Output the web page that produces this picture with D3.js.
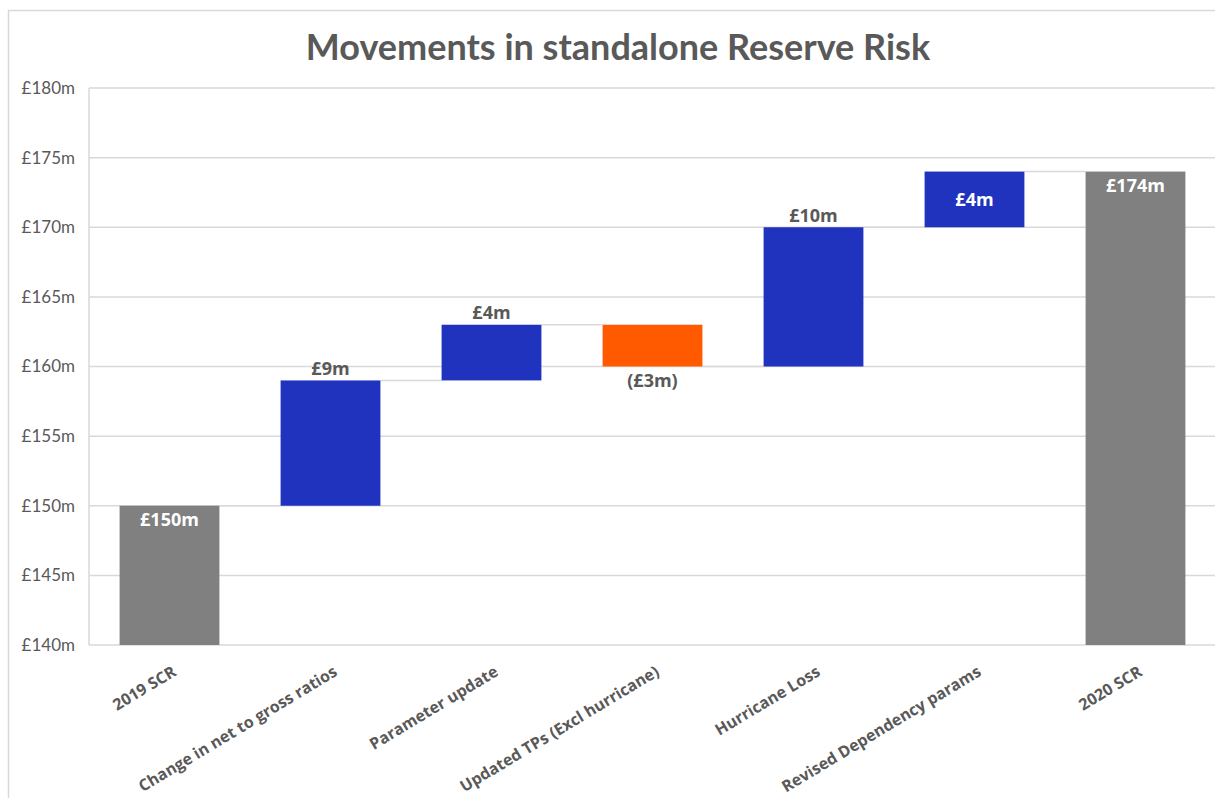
<!DOCTYPE html>
<html>
<head>
<meta charset="utf-8">
<script src="https://cdn.jsdelivr.net/npm/d3@7"></script>
<style>
  body { margin: 0; background: #fff; }
  text { font-family: Lato, "Open Sans", sans-serif; }
</style>
</head>
<body>
<div id="root"></div>
<script>
// waterfall data
const categories = [
  "2019 SCR",
  "Change in net to gross ratios",
  "Parameter update",
  "Updated TPs (Excl hurricane)",
  "Hurricane Loss",
  "Revised Dependency params",
  "2020 SCR",
];
const amounts = [150, 9, 4, -3, 10, 4, 174];
const kinds = ["total", "delta", "delta", "delta", "delta", "delta", "total"];
const valueLabels = ["£150m", "£9m", "£4m", "(£3m)", "£10m", "£4m", "£174m"];
const labelPlaces = ["inside", "above", "above", "below", "above", "center", "inside"];
const yTicks = [140, 145, 150, 155, 160, 165, 170, 175, 180];

const width = 1215,
  height = 798,
  plot = { left: 89, right: 1216, top: 88, bottom: 645 };

const colors = { total: "#808080", up: "#1f33bf", down: "#ff5a00" };

// build start/end for each bar
let running = 0;
const bars = categories.map((c, i) => {
  let y0, y1;
  if (kinds[i] === "total") {
    y0 = 140;
    y1 = amounts[i];
    running = amounts[i];
  } else {
    y0 = running;
    y1 = running + amounts[i];
    running = y1;
  }
  return { cat: c, y0, y1, kind: kinds[i], amount: amounts[i], label: valueLabels[i], place: labelPlaces[i] };
});

const svg = d3.select("#root").append("svg")
  .attr("width", width)
  .attr("height", height)
  .attr("viewBox", [0, 0, width, height]);

// chart frame
svg.append("rect")
  .attr("x", 8.5).attr("y", 10.5)
  .attr("width", width + 10).attr("height", height + 10)
  .attr("fill", "none").attr("stroke", "#d9d9d9").attr("stroke-width", 1.5);

const x = d3.scaleBand()
  .domain(categories)
  .range([plot.left, plot.right])
  .paddingInner(0.38)
  .paddingOuter(0.19);

const y = d3.scaleLinear().domain([140, 180]).range([plot.bottom, plot.top]);

// gridlines
svg.append("g")
  .selectAll("line")
  .data(yTicks)
  .join("line")
  .attr("x1", plot.left).attr("x2", plot.right)
  .attr("y1", (d) => y(d)).attr("y2", (d) => y(d))
  .attr("stroke", "#d9d9d9").attr("stroke-width", 1.5);

svg.append("line")
  .attr("x1", plot.left).attr("x2", plot.left)
  .attr("y1", plot.top).attr("y2", plot.bottom)
  .attr("stroke", "#d9d9d9").attr("stroke-width", 1.5);

// y axis
const yAxis = d3.axisLeft(y).tickValues(yTicks).tickSize(0).tickPadding(14)
  .tickFormat((t) => `£${t}m`);
const yg = svg.append("g").attr("transform", `translate(${plot.left},0)`).call(yAxis);
yg.select(".domain").remove();
yg.selectAll("text")
  .attr("fill", "#595959")
  .style("font-size", "17px")
  .style("font-family", "Lato, sans-serif");

// connectors
svg.append("g")
  .selectAll("line")
  .data(bars.slice(0, -1))
  .join("line")
  .attr("x1", (d) => x(d.cat) + x.bandwidth())
  .attr("x2", (d, i) => x(categories[i + 1]))
  .attr("y1", (d) => y(d.y1)).attr("y2", (d) => y(d.y1))
  .attr("stroke", "#d9d9d9").attr("stroke-width", 1.5);

// bars
svg.append("g")
  .selectAll("rect")
  .data(bars)
  .join("rect")
  .attr("x", (d) => x(d.cat))
  .attr("width", x.bandwidth())
  .attr("y", (d) => y(Math.max(d.y0, d.y1)))
  .attr("height", (d) => Math.abs(y(d.y0) - y(d.y1)))
  .attr("fill", (d) => d.kind === "total" ? colors.total : d.amount >= 0 ? colors.up : colors.down);

// value labels
svg.append("g")
  .selectAll("text")
  .data(bars)
  .join("text")
  .attr("x", (d) => x(d.cat) + x.bandwidth() / 2)
  .attr("y", (d) => {
    const top = y(Math.max(d.y0, d.y1)), bot = y(Math.min(d.y0, d.y1));
    if (d.place === "inside") return top + 14;
    if (d.place === "above") return top - 12;
    if (d.place === "below") return bot + 14;
    return (top + bot) / 2;
  })
  .attr("dy", "0.35em")
  .attr("text-anchor", "middle")
  .attr("fill", (d) => d.place === "inside" || d.place === "center" ? "#ffffff" : "#595959")
  .style("font-size", "18px")
  .style("font-weight", "bold")
  .style("font-family", "'Open Sans', sans-serif")
  .text((d) => d.label);

// category labels
svg.append("g")
  .selectAll("text")
  .data(categories)
  .join("text")
  .attr("transform", (d) => `translate(${x(d) + x.bandwidth() / 2 + 2},${plot.bottom + 20}) rotate(-31)`)
  .attr("text-anchor", "end")
  .attr("dy", "0.71em")
  .attr("fill", "#595959")
  .style("font-size", "16px")
  .style("font-weight", "bold")
  .style("font-family", "'Open Sans', sans-serif")
  .text((d) => d);

// title
svg.append("text")
  .attr("x", 618)
  .attr("y", 47)
  .attr("dy", "0.35em")
  .attr("text-anchor", "middle")
  .attr("fill", "#595959")
  .style("font-size", "36px")
  .style("font-weight", "bold")
  .text("Movements in standalone Reserve Risk");
</script>
</body>
</html>
